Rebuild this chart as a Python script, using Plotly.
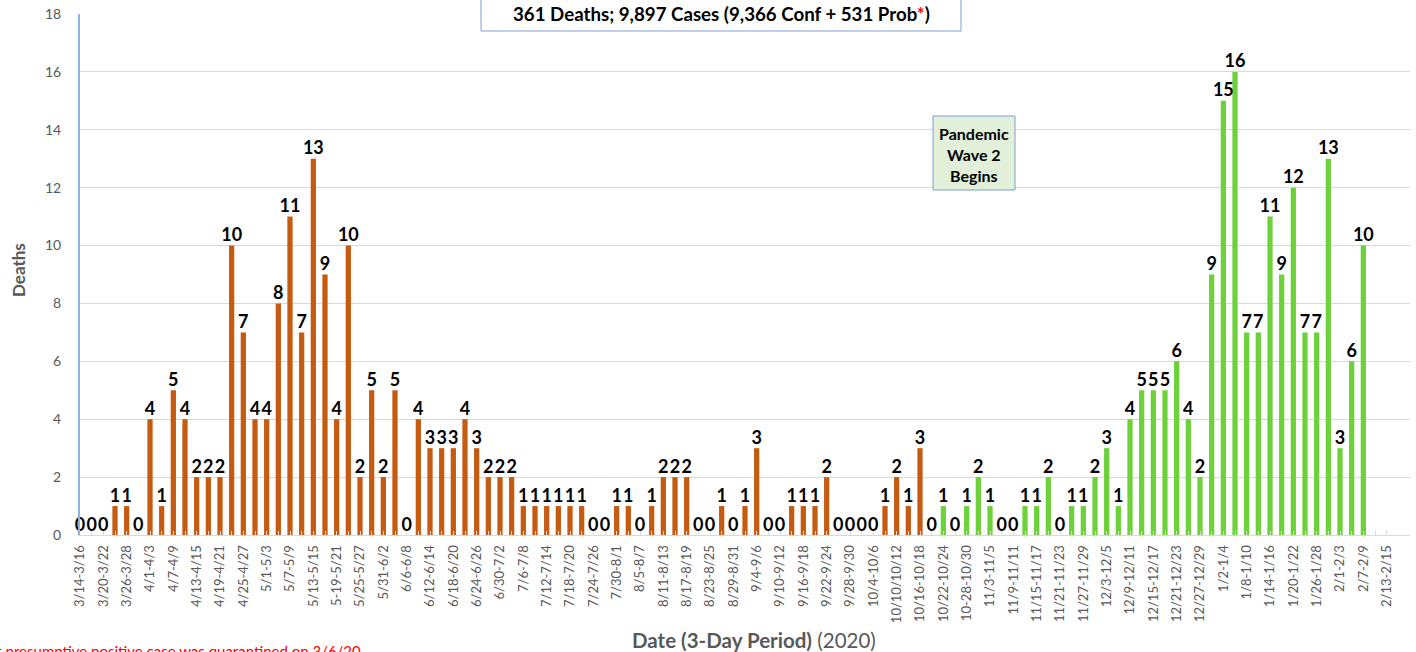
import plotly.graph_objects as go

periods = [
    "3/14-3/16", "3/17-3/19", "3/20-3/22", "3/23-3/25", "3/26-3/28", "3/29-3/31",
    "4/1-4/3", "4/4-4/6", "4/7-4/9", "4/10-4/12", "4/13-4/15", "4/16-4/18",
    "4/19-4/21", "4/22-4/24", "4/25-4/27", "4/28-4/30", "5/1-5/3", "5/4-5/6",
    "5/7-5/9", "5/10-5/12", "5/13-5/15", "5/16-5/18", "5/19-5/21", "5/22-5/24",
    "5/25-5/27", "5/28-5/30", "5/31-6/2", "6/3-6/5", "6/6-6/8", "6/9-6/11",
    "6/12-6/14", "6/15-6/17", "6/18-6/20", "6/21-6/23", "6/24-6/26", "6/27-6/29",
    "6/30-7/2", "7/3-7/5", "7/6-7/8", "7/9-7/11", "7/12-7/14", "7/15-7/17",
    "7/18-7/20", "7/21-7/23", "7/24-7/26", "7/27-7/29", "7/30-8/1", "8/2-8/4",
    "8/5-8/7", "8/8-8/10", "8/11-8/13", "8/14-8/16", "8/17-8/19", "8/20-8/22",
    "8/23-8/25", "8/26-8/28", "8/29-8/31", "9/1-9/3", "9/4-9/6", "9/7-9/9",
    "9/10-9/12", "9/13-9/15", "9/16-9/18", "9/19-9/21", "9/22-9/24", "9/25-9/27",
    "9/28-9/30", "10/1-10/3", "10/4-10/6", "10/7-10/9", "10/10-10/12", "10/13-10/15",
    "10/16-10/18", "10/19-10/21", "10/22-10/24", "10/25-10/27", "10/28-10/30", "10/31-11/2",
    "11/3-11/5", "11/6-11/8", "11/9-11/11", "11/12-11/14", "11/15-11/17", "11/18-11/20",
    "11/21-11/23", "11/24-11/26", "11/27-11/29", "11/30-12/2", "12/3-12/5", "12/6-12/8",
    "12/9-12/11", "12/12-12/14", "12/15-12/17", "12/18-12/20", "12/21-12/23", "12/24-12/26",
    "12/27-12/29", "12/30-1/1", "1/2-1/4", "1/5-1/7", "1/8-1/10", "1/11-1/13",
    "1/14-1/16", "1/17-1/19", "1/20-1/22", "1/23-1/25", "1/26-1/28", "1/29-1/31",
    "2/1-2/3", "2/4-2/6", "2/7-2/9", "2/10-2/12", "2/13-2/15",
]

# Labels as printed on the axis (every other period)
tick_labels = [
    "3/14-3/16", "3/20-3/22", "3/26-3/28", "4/1-4/3", "4/7-4/9", "4/13-4/15",
    "4/19-4/21", "4/25-4/27", "5/1-5/3", "5/7-5/9", "5/13-5/15", "5-19-5/21",
    "5/25-5/27", "5/31-6/2", "6/6-6/8", "6/12-6/14", "6/18-6/20", "6/24-6/26",
    "6/30-7/2", "7/6-7/8", "7/12-7/14", "7/18-7/20", "7/24-7/26", "7/30-8/1",
    "8/5-8/7", "8/11-8/13", "8/17-8/19", "8/23-8/25", "8/29-8/31", "9/4-9/6",
    "9/10-9/12", "9/16-9/18", "9/22-9/24", "9/28-9/30", "10/4-10/6", "10/10/10/12",
    "10/16-10/18", "10/22-10/24", "10-28-10/30", "11/3-11/5", "11/9-11/11", "11/15-11/17",
    "11/21-11/23", "11/27-11/29", "12/3-12/5", "12/9-12/11", "12/15-12/17", "12/21-12/23",
    "12/27-12/29", "1/2-1/4", "1/8-1/10", "1/14-1/16", "1/20-1/22", "1/26-1/28",
    "2/1-2/3", "2/7-2/9", "2/13-2/15",
]

# Wave 1 deaths (3/14-3/16 through 10/16-10/18)
wave1_deaths = [
    0, 0, 0, 1, 1, 0, 4, 1, 5, 4, 2, 2, 2, 10, 7, 4, 4, 8, 11, 7, 13, 9, 4, 10,
    2, 5, 2, 5, 0, 4, 3, 3, 3, 4, 3, 2, 2, 2, 1, 1, 1, 1, 1, 1, 0, 0, 1, 1,
    0, 1, 2, 2, 2, 0, 0, 1, 0, 1, 3, 0, 0, 1, 1, 1, 2, 0, 0, 0, 0, 1, 2, 1, 3,
]
# Wave 2 deaths (10/19-10/21 through 2/7-2/9)
wave2_deaths = [
    0, 1, 0, 1, 2, 1, 0, 0, 1, 1, 2, 0, 1, 1, 2, 3, 1, 4, 5, 5, 5, 6, 4, 2,
    9, 15, 16, 7, 7, 11, 9, 12, 7, 7, 13, 3, 6, 10,
]

n1 = len(wave1_deaths)
n2 = len(wave2_deaths)
x1 = periods[:n1]
x2 = periods[n1:n1 + n2]

ORANGE = "#c55a11"
GREEN = "#6dd23a"
GRAY = "#595959"
FONT = "Lato"

fig = go.Figure()
fig.add_trace(go.Bar(x=x1, y=wave1_deaths, marker_color=ORANGE, marker_line_width=0,
                     name="Wave 1", hoverinfo="x+y"))
fig.add_trace(go.Bar(x=x2, y=wave2_deaths, marker_color=GREEN, marker_line_width=0,
                     name="Wave 2", hoverinfo="x+y"))
fig.add_trace(go.Scatter(x=x1 + x2, y=wave1_deaths + wave2_deaths, mode="text",
                         text=[str(v) for v in wave1_deaths + wave2_deaths],
                         textposition="top center",
                         textfont=dict(family=FONT, size=18, color="#000000", weight="bold"),
                         cliponaxis=False, hoverinfo="skip"))

tickvals = periods
ticktext = []
j = 0
for i, p in enumerate(periods):
    if i % 2 == 0:
        ticktext.append(tick_labels[j])
        j += 1
    else:
        ticktext.append("")

L, R, T, B = 80, 6, 14, 117
W, H = 1416, 652
pw = W - L - R
ph = H - T - B


def px(xpix):
    return (xpix - L) / pw


def py(ypix):
    return (H - B - ypix) / ph


fig.update_layout(
    width=W, height=H,
    margin=dict(l=L, r=R, t=T, b=B, pad=0, autoexpand=False),
    plot_bgcolor="white", paper_bgcolor="white",
    showlegend=False,
    barmode="overlay",
    bargap=0.55,
    font=dict(family=FONT, color=GRAY),
    xaxis=dict(
        type="category",
        categoryorder="array", categoryarray=periods,
        range=[0, 114],
        tickmode="array", tickvals=tickvals, ticktext=ticktext,
        tickangle=-90,
        tickfont=dict(family=FONT, size=13, color=GRAY),
        ticks="inside", ticklen=4, tickcolor="#d9d9d9", tickwidth=1,
        ticklabelstandoff=4,
        showline=True, linecolor="#d9d9d9", linewidth=1,
        showgrid=False, zeroline=False,
    ),
    yaxis=dict(
        range=[0, 18], dtick=2,
        tickfont=dict(family=FONT, size=14, color=GRAY),
        showgrid=True, gridcolor="#d9d9d9", gridwidth=1,
        showline=True, linecolor="#8eb4e3", linewidth=2,
        zeroline=False, ticks="", ticklabelstandoff=14,
    ),
)

shapes = [
    # title box
    dict(type="rect", xref="paper", yref="paper", x0=px(481), x1=px(961),
         y0=py(31), y1=py(-10), fillcolor="white", line=dict(color="#7f9fd6", width=1),
         layer="above"),
    # pandemic wave 2 box
    dict(type="rect", xref="paper", yref="paper", x0=px(933), x1=px(1015),
         y0=py(190), y1=py(116), fillcolor="#e2efd9", line=dict(color="#7f9fd6", width=1),
         layer="above"),
]

annotations = [
    dict(xref="paper", yref="paper", x=px(721), y=py(14), xanchor="center", yanchor="middle",
         text="<b>361 Deaths; 9,897 Cases (9,366 Conf + 531 Prob<span style='color:#ff0000'>*</span>)</b>",
         showarrow=False, font=dict(family=FONT, size=18.7, color="#000000")),
    dict(xref="paper", yref="paper", x=px(974), y=py(154), xanchor="center", yanchor="middle",
         text="<b>Pandemic<br>Wave 2<br>Begins</b>", showarrow=False,
         font=dict(family=FONT, size=16, color="#000000")),
    dict(xref="paper", yref="paper", x=px(18), y=py(270), xanchor="center", yanchor="middle",
         text="<b>Deaths</b>", textangle=-90, showarrow=False,
         font=dict(family=FONT, size=17, color=GRAY)),
    dict(xref="paper", yref="paper", x=px(753.5), y=py(640), xanchor="center", yanchor="middle",
         text="<b>Date (3-Day Period)</b> (2020)", showarrow=False,
         font=dict(family=FONT, size=20.5, color=GRAY)),
    dict(xref="paper", yref="paper", x=px(363), y=py(651), xanchor="right", yanchor="middle",
         text="*First presumptive positive case was quarantined on 3/6/20", showarrow=False,
         font=dict(family=FONT, size=15, color="#ff0000")),
]

fig.update_layout(shapes=shapes, annotations=annotations)

fig.write_html(
    "out.html",
    config={"displayModeBar": False},
    post_script="document.body.style.margin='0';document.body.style.padding='0';document.body.style.overflow='hidden';",
)
